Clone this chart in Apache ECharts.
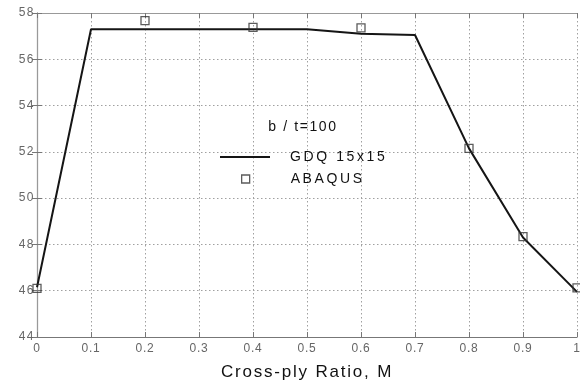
<!DOCTYPE html>
<html><head><meta charset="utf-8">
<script src="https://cdn.jsdelivr.net/npm/echarts@6/dist/echarts.min.js"></script>
<style>html,body{margin:0;padding:0;background:#fff;overflow:hidden}#c{width:580px;height:382px}</style>
</head><body><div id="c"></div>
<script>
const gdqX = [0, 0.1, 0.2, 0.3, 0.4, 0.5, 0.6, 0.7, 0.8, 0.9, 1.0];
const gdqY = [46.15, 57.3, 57.3, 57.3, 57.3, 57.3, 57.1, 57.05, 52.15, 48.3, 45.95];
const abaqusX = [0, 0.2, 0.4, 0.6, 0.8, 0.9, 1.0];
const abaqusY = [46.1, 57.67, 57.38, 57.36, 52.15, 48.34, 46.12];
const seriesNames = ['GDQ 15x15', 'ABAQUS'];
const annotation = 'b / t=100';
const xTitle = 'Cross-ply Ratio, M';

// widen letter spacing to match the stretched lettering of the original
function spacingFor(s) {
  if (s === xTitle) return 1.8;
  if (seriesNames.includes(s)) return 2.6;
  if (s === annotation) return 1.6;
  if (/^[0-9.]+$/.test(s)) return (s.indexOf('.') >= 0 || s === '0' || s === '1') ? 0.8 : 1.5;
  return 0;
}
const origFill = CanvasRenderingContext2D.prototype.fillText;
CanvasRenderingContext2D.prototype.fillText = function (s, x, y, w) {
  const prev = this.letterSpacing;
  const ls = spacingFor(String(s));
  if (ls && 'letterSpacing' in this) this.letterSpacing = ls + 'px';
  if (w === undefined) origFill.call(this, s, x, y); else origFill.call(this, s, x, y, w);
  if (ls && 'letterSpacing' in this) this.letterSpacing = prev;
};

const chart = echarts.init(document.getElementById('c'), null, {renderer: 'canvas'});
const fmt = v => String(Number(v.toFixed(1)));
const FONT = 'Liberation Sans, Arial, sans-serif';
const gridLine = {show: true, lineStyle: {color: '#a0a0a0', type: [1.5, 2.5], width: 1}};
const legendText = {fontFamily: FONT, fontSize: 14, color: '#111'};
chart.setOption({
  animation: false,
  backgroundColor: '#fff',
  grid: {left: 37, right: 3, top: 13, bottom: 45, containLabel: false, outerBoundsMode: 'none'},
  title: {text: annotation, left: 303, top: 120, textAlign: 'center', padding: 0,
    textStyle: {fontFamily: FONT, fontSize: 14, fontWeight: 'normal', color: '#111'}},
  legend: [{
    left: 220, top: 150, padding: 0, itemWidth: 50, itemHeight: 2, icon: 'rect',
    textStyle: Object.assign({padding: [0, 0, 0, 15]}, legendText),
    data: [{name: seriesNames[0], itemStyle: {color: '#151515'}}]
  }, {
    left: 241, top: 172, padding: 0, itemWidth: 8, itemHeight: 8, icon: 'rect',
    textStyle: Object.assign({padding: [0, 0, 0, 36]}, legendText),
    data: [{name: seriesNames[1], itemStyle: {color: '#fff', borderColor: '#333', borderWidth: 1.3}}]
  }],
  xAxis: [{
    type: 'value', min: 0, max: 1, interval: 0.1, position: 'bottom',
    name: xTitle, nameLocation: 'middle', nameGap: 27,
    nameTextStyle: {fontFamily: FONT, fontSize: 17, color: '#111'},
    axisLine: {show: true, lineStyle: {color: '#777', width: 1.2}},
    axisTick: {show: true, inside: true, length: 5, lineStyle: {color: '#777'}},
    axisLabel: {formatter: fmt, margin: 6, fontFamily: FONT, fontSize: 12, color: '#666'},
    splitLine: gridLine
  }, {
    type: 'value', min: 0, max: 1, interval: 0.1, position: 'top',
    axisLine: {show: true, lineStyle: {color: '#999', width: 1}},
    axisTick: {show: true, inside: true, length: 5, lineStyle: {color: '#777'}},
    axisLabel: {show: false}, splitLine: {show: false}
  }],
  yAxis: [{
    type: 'value', min: 44, max: 58, interval: 2, position: 'left',
    axisLine: {show: true, lineStyle: {color: '#777', width: 1.2}},
    axisTick: {show: true, inside: true, length: 5, lineStyle: {color: '#777'}},
    axisLabel: {margin: 2, fontFamily: FONT, fontSize: 12, color: '#666'},
    splitLine: gridLine
  }, {
    type: 'value', min: 44, max: 58, interval: 2, position: 'right',
    axisLine: {show: true, lineStyle: {color: '#999', width: 1}},
    axisTick: {show: true, inside: true, length: 5, lineStyle: {color: '#777'}},
    axisLabel: {show: false}, splitLine: {show: false}
  }],
  series: [{
    name: seriesNames[0], type: 'line', symbol: 'none',
    data: gdqX.map((x, i) => [x, gdqY[i]]),
    lineStyle: {color: '#151515', width: 2}, itemStyle: {color: '#151515'}, z: 3
  }, {
    name: seriesNames[1], type: 'scatter', symbol: 'rect', symbolSize: 8,
    data: abaqusX.map((x, i) => [x, abaqusY[i]]),
    itemStyle: {color: 'rgba(255,255,255,0)', borderColor: '#333', borderWidth: 1.3}, z: 4
  }]
});
</script></body></html>
